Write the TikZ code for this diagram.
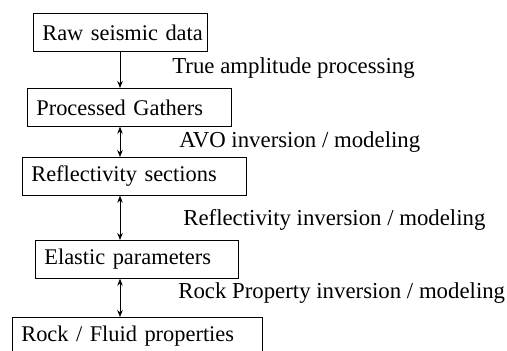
\documentclass[tikz,border=0pt]{standalone}
\usepackage{fontspec}
\setmainfont{Liberation Serif}
\usetikzlibrary{arrows.meta}
\begin{document}
\begin{tikzpicture}[x=1pt, y=1pt, line width=0.7pt, >={Stealth[length=7pt,width=5.5pt]},
	every node/.style = {font=\fontsize{22.8}{27}\selectfont},
	main/.style = {draw, anchor=north west, minimum height=38pt, inner xsep=0pt, inner ysep=0pt, align=left, text width=#1,
		font=\fontsize{22.4}{27}\selectfont, execute at begin node={\hspace*{9pt}}},
	note/.style = {anchor=west, inner sep=0pt}]
	\useasboundingbox (0,0) rectangle (507,351);
	\clip (0,0) rectangle (507,351);
	
	\node[main=174pt] (1) at (33,338) {Raw seismic data};
	\node[main=204pt] (2) at (27,263) {Processed Gathers};
	\node[main=224pt] (3) at (22,194) {Reflectivity sections};
	\node[main=203pt] (4) at (35,111) {Elastic parameters};
	\node[main=250pt] (5) at (12,34) {Rock / Fluid properties};
	
	\node[note] (t1) at (172,283) {True amplitude processing};
	\node[note] (t2) at (179,209) {AVO inversion / modeling};
	\node[note] (t3) at (183,131) {Reflectivity inversion / modeling};
	\node[note] (t4) at (178,58) {Rock Property inversion / modeling};
	
	\coordinate (axis) at (120,0);
	
	\draw[->] (1.south -| axis) -- (2.north -| axis);
	\draw[<->] (2.south -| axis) -- (3.north -| axis);
	\draw[<->] (3.south -| axis) -- (4.north -| axis);
	\draw[<->] (4.south -| axis) -- (5.north -| axis);
	
\end{tikzpicture}
\end{document}
